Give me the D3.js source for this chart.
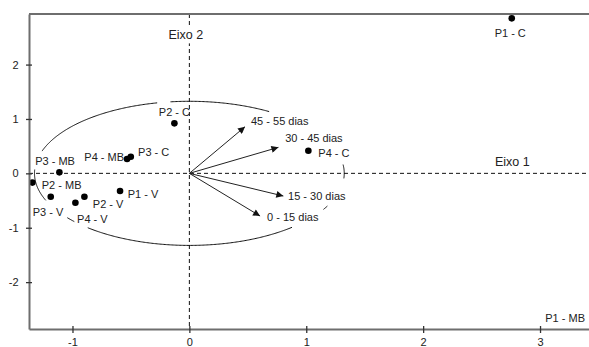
<!DOCTYPE html>
<html>
<head>
<meta charset="utf-8">
<script src="https://cdn.jsdelivr.net/npm/d3@7"></script>
<style>
  body { margin: 0; background: #fff; }
  text { font-family: "Liberation Sans", Arial, sans-serif; fill: #222; }
</style>
</head>
<body>
<svg id="chart" width="589" height="347"></svg>
<script>
// Sample scores on the two axes
const sampleNames = ["P1 - C", "P2 - C", "P3 - C", "P4 - C",
                     "P3 - MB", "P4 - MB", "P2 - MB", "P1 - MB",
                     "P1 - V", "P2 - V", "P3 - V", "P4 - V"];
const axis1Scores = [2.758, -0.128, -0.501, 1.018,
                     -1.112, -0.533, -1.343, 3.62,
                     -0.593, -0.898, -1.186, -0.975];
const axis2Scores = [2.85, 0.919, 0.305, 0.415,
                     0.018, 0.263, -0.17, -2.65,
                     -0.325, -0.43, -0.43, -0.54];

// Period vectors (loadings)
const periodNames = ["45 - 55 dias", "30 - 45 dias", "15 - 30 dias", "0 - 15 dias"];
const axis1Loadings = [0.476, 0.762, 0.804, 0.605];
const axis2Loadings = [0.857, 0.478, -0.417, -0.785];

const xTicks = [-1, 0, 1, 2, 3];
const yTicks = [-2, -1, 0, 1, 2];
const circleRadius = 1.325;
const axisTitles = ["Eixo 1", "Eixo 2"];

// ---- layout ----
const W = 589, H = 347;
const plotLeft = 29, plotTop = 14, plotBottom = 329;
const x = d3.scaleLinear().domain([-1.372, 3.419]).range([plotLeft, W]);
const y = d3.scaleLinear().domain([2.93, -2.862]).range([plotTop, plotBottom]);
const plainNumber = d => String(d);

const svg = d3.select("#chart");
svg.append("rect").attr("width", W).attr("height", H).attr("fill", "#fff");

const defs = svg.append("defs");
defs.append("marker")
  .attr("id", "head")
  .attr("viewBox", "0 0 10 10")
  .attr("refX", 10).attr("refY", 5)
  .attr("markerUnits", "userSpaceOnUse")
  .attr("markerWidth", 8).attr("markerHeight", 7)
  .attr("orient", "auto")
  .append("path").attr("d", "M0,0 L10,5 L0,10 Z").attr("fill", "#111");

// Zero reference lines (dashed)
svg.append("line")
  .attr("x1", plotLeft).attr("x2", W).attr("y1", y(0)).attr("y2", y(0))
  .attr("stroke", "#111").attr("stroke-width", 1).attr("stroke-dasharray", "4,3");
svg.append("line")
  .attr("x1", x(0)).attr("x2", x(0)).attr("y1", plotTop).attr("y2", plotBottom)
  .attr("stroke", "#111").attr("stroke-width", 1).attr("stroke-dasharray", "4,3");

// Axis titles
svg.append("text").text(axisTitles[0])
  .attr("x", 495).attr("y", y(0) - 11.5).attr("dy", "0.35em")
  .attr("font-size", 12.5);
const eixo2 = svg.append("g");
const t2 = eixo2.append("text").text(axisTitles[1])
  .attr("x", x(0) - 3.5).attr("y", 35).attr("dy", "0.35em")
  .attr("text-anchor", "middle").attr("font-size", 12.5);
const bb = t2.node().getBBox();
eixo2.insert("rect", "text")
  .attr("x", bb.x - 1).attr("y", bb.y - 1).attr("width", bb.width + 2).attr("height", bb.height + 2)
  .attr("fill", "#fff");

// Circle, drawn in visible arc pieces (left open where labels sit)
const arcPieces = [[59, 97], [102, 162], [177, 202], [218, 222.4],
                   [229, 311.5], [330, 333], [356, 367]];
const arcLine = d3.line().x(d => x(d[0])).y(d => y(d[1]));
arcPieces.forEach(([a0, a1]) => {
  const pts = [];
  for (let a = a0; a <= a1 + 1e-9; a += 0.5) {
    const r = a * Math.PI / 180;
    pts.push([circleRadius * Math.cos(r), circleRadius * Math.sin(r)]);
  }
  svg.append("path").attr("d", arcLine(pts))
    .attr("fill", "none").attr("stroke", "#111").attr("stroke-width", 1);
});

// Vectors
const vecLabelPos = [[6, -6], [6.7, -9.6], [4.7, 0], [7, 0.7]];
periodNames.forEach((name, i) => {
  const tx = x(axis1Loadings[i]), ty = y(axis2Loadings[i]);
  svg.append("line")
    .attr("x1", x(0)).attr("y1", y(0)).attr("x2", tx).attr("y2", ty)
    .attr("stroke", "#222").attr("stroke-width", 1)
    .attr("marker-end", "url(#head)");
  svg.append("text").text(name)
    .attr("x", tx + vecLabelPos[i][0]).attr("y", ty + vecLabelPos[i][1])
    .attr("dy", "0.35em").attr("font-size", 11);
});

// Sample points
const labelPlace = {
  "P1 - C":  ["middle", -1.5, 15],
  "P2 - C":  ["middle", 0, -11.6],
  "P3 - C":  ["start", 7.3, -4.4],
  "P4 - C":  ["start", 10, 2.6],
  "P3 - MB": ["middle", -4.3, -11.6],
  "P4 - MB": ["end", -3, -2.3],
  "P2 - MB": ["start", 9.4, 2.3],
  "P1 - MB": ["end", 0, 0.5],
  "P1 - V":  ["start", 7.7, 3.3],
  "P2 - V":  ["start", 8.4, 7.6],
  "P3 - V":  ["middle", -2.7, 15],
  "P4 - V":  ["start", 1.7, 16.6]
};
sampleNames.forEach((name, i) => {
  const px = x(axis1Scores[i]), py = y(axis2Scores[i]);
  svg.append("circle").attr("cx", px).attr("cy", py).attr("r", 3.3).attr("fill", "#000");
  const [anchor, dx, dy] = labelPlace[name];
  // points beyond the right edge keep their label inside the frame
  const outside = px > W;
  svg.append("text").text(name)
    .attr("x", outside ? W - 4 : px + dx).attr("y", py + dy).attr("dy", "0.35em")
    .attr("text-anchor", outside ? "end" : anchor).attr("font-size", 11);
});

// Frame and axes
const frameColor = "#6e6e6e";
svg.append("line").attr("x1", plotLeft).attr("x2", W).attr("y1", plotTop).attr("y2", plotTop)
  .attr("stroke", frameColor).attr("stroke-width", 2);

const yAxis = svg.append("g").attr("transform", `translate(${plotLeft},0)`)
  .call(d3.axisLeft(y).tickValues(yTicks).tickSize(3).tickSizeOuter(0).tickFormat(plainNumber));
yAxis.select(".domain").attr("stroke", frameColor).attr("stroke-width", 2);
yAxis.selectAll(".tick line").attr("x1", 3).attr("stroke", "#333").attr("stroke-width", 1.3);
yAxis.selectAll(".tick text").attr("x", -10.5).attr("font-size", 11)
  .attr("font-family", "Liberation Sans, Arial, sans-serif").attr("fill", "#222");

const xAxis = svg.append("g").attr("transform", `translate(0,${plotBottom})`)
  .call(d3.axisBottom(x).tickValues(xTicks).tickSize(4).tickSizeOuter(0).tickFormat(plainNumber));
xAxis.select(".domain").attr("stroke", frameColor).attr("stroke-width", 2);
xAxis.selectAll(".tick line").attr("y1", -3).attr("stroke", "#333").attr("stroke-width", 1.3);
xAxis.selectAll(".tick text").attr("y", 17).attr("dy", null).attr("font-size", 11)
  .attr("font-family", "Liberation Sans, Arial, sans-serif").attr("fill", "#222");
</script>
</body>
</html>
